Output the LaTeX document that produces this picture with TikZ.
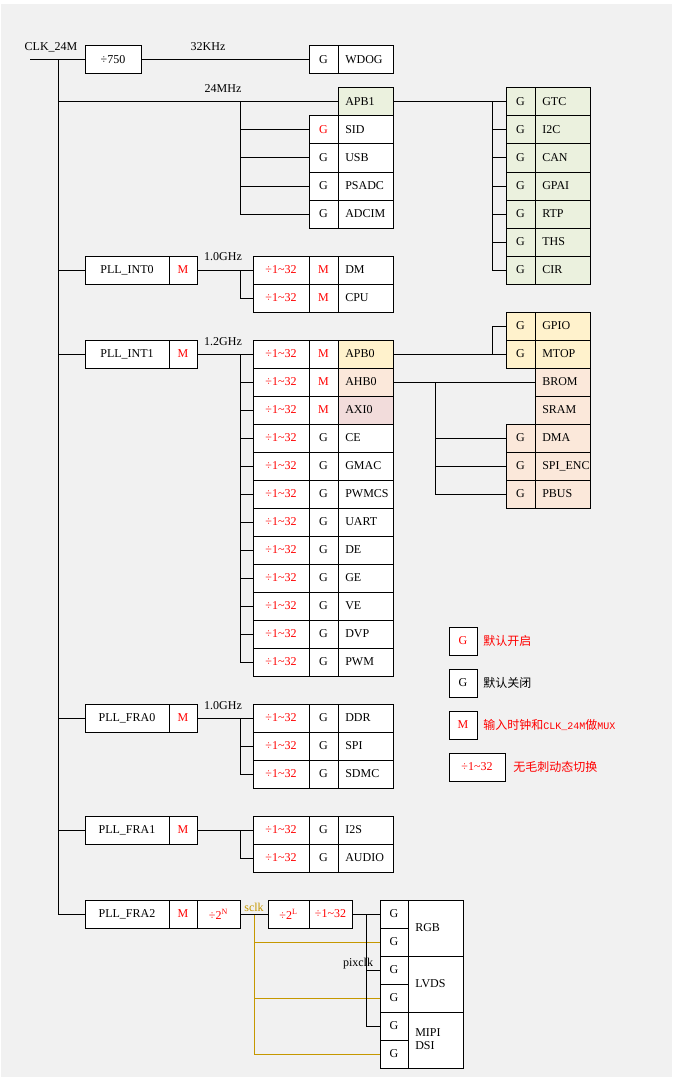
\documentclass[tikz,border=0pt]{standalone}
\usepackage{fontspec}
\setmainfont{Liberation Serif}
\newfontfamily\cjk{Noto Sans CJK SC}
\newfontfamily\monof{Liberation Mono}
\usetikzlibrary{calc}
\definecolor{bg}{HTML}{F1F1F1}
\definecolor{grn}{HTML}{EBF1DE}
\definecolor{yel}{HTML}{FFF2CC}
\definecolor{pch}{HTML}{FBE8DA}
\definecolor{pnk}{HTML}{F2DCDB}
\definecolor{gold}{HTML}{C59800}
\definecolor{redtxt}{HTML}{FF0000}
\tikzset{
 box/.style={draw=black, fill=white, line width=0.75pt, inner sep=0pt, outer sep=0pt, font=\fontsize{9}{11}\selectfont},
 lbl/.style={inner sep=0pt, font=\fontsize{9}{11}\selectfont},
 wire/.style={line width=0.75pt},
 gwire/.style={line width=0.75pt, draw=gold},
 rt/.style={text=redtxt},
}
\newcommand\dv{÷1\textasciitilde32}
\newcommand\cbox[7]{\node[box,#6,minimum width={(#4-(#2))*0.75pt},minimum height={(#5-(#3))*0.75pt}] (#1) at ({((#2)+(#4))/2},{((#3)+(#5))/2}) {#7};}
\newcommand\lbox[7]{\node[box,#6,minimum width={(#4-(#2))*0.75pt},minimum height={(#5-(#3))*0.75pt}] (#1) at ({((#2)+(#4))/2},{((#3)+(#5))/2}) {};
 \node[lbl,anchor=west] at ([xshift=5.25pt]#1.west) {#7};}
\newcommand\drow[6]{%
 \cbox{#1d}{253}{#2}{309}{#2+28}{rt}{\dv}%
 \cbox{#1g}{309}{#2}{338}{#2+28}{#3}{#4}%
 \lbox{#1n}{338}{#2}{393}{#2+28}{#6}{#5}}
\newcommand\grow[6]{%
 \cbox{#1g}{#2}{#3}{#2+29}{#3+28}{#4,#6}{G}%
 \lbox{#1n}{#2+29}{#3}{#2+84}{#3+28}{#6}{#5}}
\begin{document}
\begin{tikzpicture}[x=0.75pt,y=-0.75pt]
\useasboundingbox (0,0) rectangle (677,1077);
\fill[white] (0,0) rectangle (677,1077);
\fill[bg] (1,4) rectangle (672,1077);

% ---------- top: CLK_24M ----------
\node[lbl] (clk) at (51,47) {CLK\_24M};
\coordinate (clkL) at (30,60);
\coordinate (tTop) at (58,60);
\coordinate (tBot) at (58,914);
\cbox{d750}{85}{46}{141}{74}{}{÷750}
\grow{wdog}{309}{46}{}{WDOG}{}
\node[lbl] (l32k) at (208,47) {32KHz};

% 24MHz branch
\lbox{apbone}{338}{88}{393}{116}{fill=grn}{APB1}
\grow{sid}{309}{116}{rt}{SID}{}
\grow{usb}{309}{144}{}{USB}{}
\grow{psadc}{309}{172}{}{PSADC}{}
\grow{adcim}{309}{200}{}{ADCIM}{}
\node[lbl] (l24m) at (223,89) {24MHz};
\grow{gtc}{506}{88}{}{GTC}{fill=grn}
\grow{itc}{506}{116}{}{I2C}{fill=grn}
\grow{can}{506}{144}{}{CAN}{fill=grn}
\grow{gpai}{506}{172}{}{GPAI}{fill=grn}
\grow{rtp}{506}{200}{}{RTP}{fill=grn}
\grow{ths}{506}{228}{}{THS}{fill=grn}
\grow{cir}{506}{256}{}{CIR}{fill=grn}

% ---------- PLL_INT0 ----------
\cbox{pinta}{85}{256}{169}{284}{}{PLL\_INT0}
\cbox{pintam}{169}{256}{197}{284}{rt}{M}
\node[lbl] (l10a) at (223,257) {1.0GHz};
\drow{dm}{256}{rt}{M}{DM}{}
\drow{cpu}{284}{rt}{M}{CPU}{}

% ---------- PLL_INT1 ----------
\cbox{pintb}{85}{340}{169}{368}{}{PLL\_INT1}
\cbox{pintbm}{169}{340}{197}{368}{rt}{M}
\node[lbl] (l12) at (223,342) {1.2GHz};
\drow{apbz}{340}{rt}{M}{APB0}{fill=yel}
\drow{ahbz}{368}{rt}{M}{AHB0}{fill=pch}
\drow{axiz}{396}{rt}{M}{AXI0}{fill=pnk}
\drow{ce}{424}{}{G}{CE}{}
\drow{gmac}{452}{}{G}{GMAC}{}
\drow{pwmcs}{480}{}{G}{PWMCS}{}
\drow{uart}{508}{}{G\hspace{1.2pt}}{UART}{}
\drow{de}{536}{}{G}{DE}{}
\drow{ge}{564}{}{G}{GE}{}
\drow{ve}{592}{}{G}{VE}{}
\drow{dvp}{620}{}{G}{DVP}{}
\drow{pwm}{648}{}{G}{PWM}{}
\grow{gpio}{506}{312}{}{GPIO}{fill=yel}
\grow{mtop}{506}{340}{}{MTOP}{fill=yel}
\lbox{brom}{535}{368}{590}{396}{fill=pch}{BROM}
\lbox{sram}{535}{396}{590}{424}{fill=pch}{SRAM}
\grow{dma}{506}{424}{}{DMA}{fill=pch}
\grow{spienc}{506}{452}{}{SPI\_ENC}{fill=pch}
\grow{pbus}{506}{480}{}{PBUS}{fill=pch}

% ---------- PLL_FRA0 ----------
\cbox{pfa}{85}{704}{169}{732}{}{PLL\_FRA0}
\cbox{pfam}{169}{704}{197}{732}{rt}{M}
\node[lbl] (l10b) at (223,706) {1.0GHz};
\drow{ddr}{704}{}{G}{DDR}{}
\drow{spi}{732}{}{G}{SPI}{}
\drow{sdmc}{760}{}{G}{SDMC}{}

% ---------- PLL_FRA1 ----------
\cbox{pfb}{85}{816}{169}{844}{}{PLL\_FRA1}
\cbox{pfbm}{169}{816}{197}{844}{rt}{M}
\drow{iis}{816}{}{G}{I2S}{}
\drow{audio}{844}{}{G}{AUDIO}{}

% ---------- PLL_FRA2 ----------
\cbox{pfc}{85}{900}{169}{928}{}{PLL\_FRA2}
\cbox{pfcm}{169}{900}{197}{928}{rt}{M}
\cbox{pfcn}{197}{900}{240}{928}{rt}{÷2\textsuperscript{N}}
\node[lbl,text=gold] (sclk) at (254,907) {sclk};
\cbox{dtl}{268}{900}{309}{928}{rt}{÷2\textsuperscript{L}}
\cbox{dtd}{309}{900}{352}{928}{rt}{\dv}
\cbox{dsa}{380}{900}{408}{928}{}{G}
\cbox{dsb}{380}{928}{408}{956}{}{G}
\cbox{dsc}{380}{956}{408}{984}{}{G}
\cbox{dsd}{380}{984}{408}{1012}{}{G}
\cbox{dse}{380}{1012}{408}{1040}{}{G}
\cbox{dsf}{380}{1040}{408}{1068}{}{G}
\lbox{rgb}{408}{900}{463}{956}{}{RGB}
\lbox{lvds}{408}{956}{463}{1012}{}{LVDS}
\lbox{mipi}{408}{1012}{463}{1068}{}{\begin{tabular}{@{}l@{}}MIPI\\[-1pt]DSI\end{tabular}}
\node[lbl] (pix) at (358,964) {pixclk};

% ---------- legend ----------
\cbox{lga}{449}{627}{477}{655}{rt}{G}
\cbox{lgb}{449}{669}{477}{697}{}{G}
\cbox{lgc}{449}{711}{477}{739}{rt}{M}
\cbox{lgd}{449}{753}{505}{781}{rt}{\dv}
\node[lbl,anchor=west,text=redtxt] (lta) at (483,641) {\cjk 默认开启};
\node[lbl,anchor=west] (ltb) at (483,683) {\cjk 默认关闭};
\node[lbl,anchor=west,text=redtxt] (ltc) at (483,725) {\cjk 输入时钟和{\monof\fontsize{7.5}{9}\selectfont CLK\_24M}做{\monof\fontsize{7.5}{9}\selectfont MUX}};
\node[lbl,anchor=west,text=redtxt] (ltd) at (513,767) {\cjk 无毛刺动态切换};

% ---------- connectors ----------
\draw[wire] (clkL) -- (d750.west);
\draw[wire] (tTop) -- (tBot);
\draw[wire] (d750.east) -- (wdogg.west);
\coordinate (t24) at (58,102);
\coordinate (j24) at (240,102);
\draw[wire] (t24) -- (apbone.west);
\foreach \n in {sid,usb,psadc,adcim} \draw[wire] (j24) |- (\n g.west);
\draw[wire] (apbone.east) -- (gtcg.west);
\coordinate (japb1) at (492,102);
\foreach \n in {itc,can,gpai,rtp,ths,cir} \draw[wire] (japb1) |- (\n g.west);

\coordinate (tia) at (58,270);
\coordinate (jia) at (240,270);
\draw[wire] (tia) -- (pinta.west);
\draw[wire] (pintam.east) -- (dmd.west);
\draw[wire] (jia) |- (cpud.west);

\coordinate (tib) at (58,354);
\coordinate (jib) at (240,354);
\draw[wire] (tib) -- (pintb.west);
\draw[wire] (pintbm.east) -- (apbzd.west);
\foreach \n in {ahbz,axiz,ce,gmac,pwmcs,uart,de,ge,ve,dvp,pwm} \draw[wire] (jib) |- (\n d.west);
\draw[wire] (apbzn.east) -- (mtopg.west);
\coordinate (japb0) at (492,354);
\draw[wire] (japb0) |- (gpiog.west);
\draw[wire] (ahbzn.east) -- (brom.west);
\coordinate (jahb) at (435,382);
\foreach \n in {dma,spienc,pbus} \draw[wire] (jahb) |- (\n g.west);

\coordinate (tfa) at (58,718);
\coordinate (jfa) at (240,718);
\draw[wire] (tfa) -- (pfa.west);
\draw[wire] (pfam.east) -- (ddrd.west);
\draw[wire] (jfa) |- (spid.west);
\draw[wire] (jfa) |- (sdmcd.west);

\coordinate (tfb) at (58,830);
\coordinate (jfb) at (240,830);
\draw[wire] (tfb) -- (pfb.west);
\draw[wire] (pfbm.east) -- (iisd.west);
\draw[wire] (jfb) |- (audiod.west);

\draw[wire] (tBot) -- (pfc.west);
\coordinate (jsclk) at (254,914);
\foreach \n in {dsb,dsd,dsf} \draw[gwire] (jsclk) |- (\n.west);
\draw[wire] (pfcn.east) -- (dtl.west);
\draw[wire] (dtd.east) -- (dsa.west);
\coordinate (jpix) at (366,914);
\draw[wire] (jpix) |- (dsc.west);
\draw[wire] (jpix) |- (dse.west);
\end{tikzpicture}
\end{document}
